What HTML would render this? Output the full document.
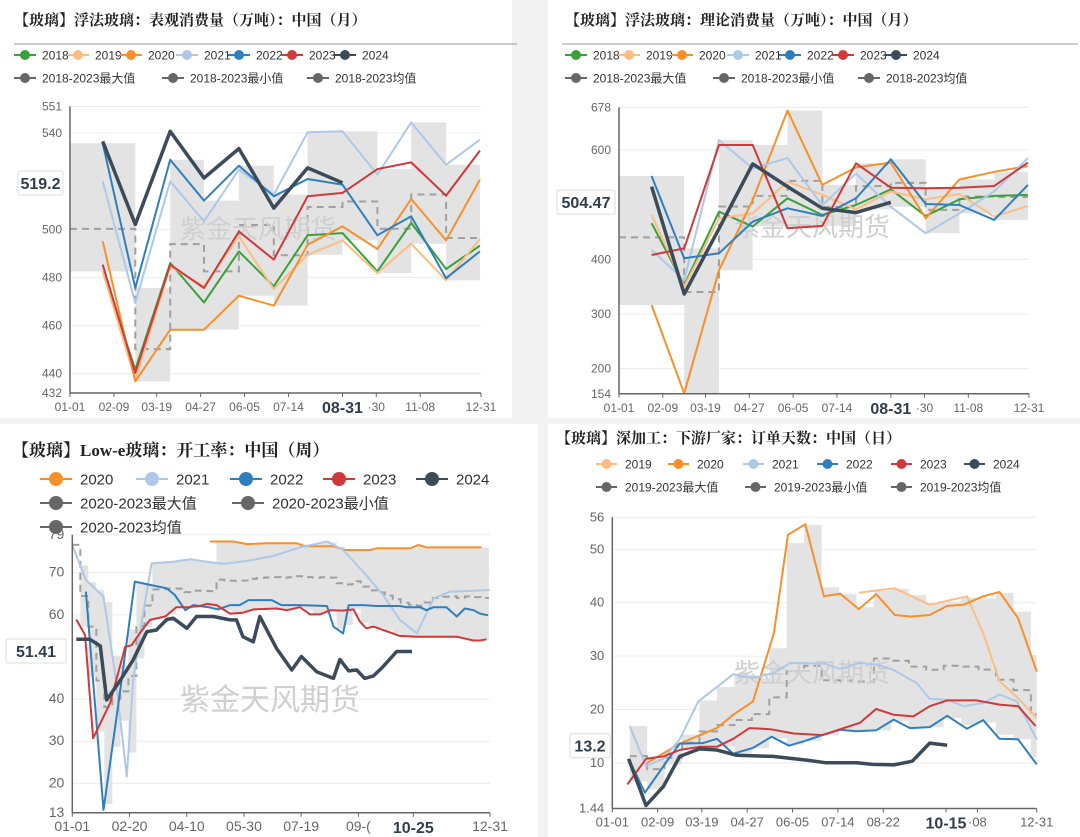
<!DOCTYPE html>
<html><head><meta charset="utf-8">
<style>
html,body{margin:0;padding:0;background:#f2f2f2;}
svg{display:block;font-family:"Liberation Sans","Noto Sans CJK SC",sans-serif;}
.t{font-family:"Liberation Serif","Noto Serif CJK SC",serif;font-weight:bold;fill:#222;}
</style></head>
<body>
<svg id="s" width="1080" height="837" viewBox="0 0 1080 837">
<rect x="0" y="0" width="512" height="418" fill="#fff"/>
<rect x="548" y="0" width="532" height="418" fill="#fff"/>
<rect x="0" y="424" width="538" height="413" fill="#fff"/>
<rect x="548" y="424" width="532" height="413" fill="#fff"/>
<text class="t" x="14" y="25" font-size="15">【玻璃】浮法玻璃：表观消费量（万吨）：中国（月）</text>
<line x1="14" y1="44" x2="517" y2="44" stroke="#999"/>
<text class="t" x="565" y="25" font-size="15">【玻璃】浮法玻璃：理论消费量（万吨）：中国（月）</text>
<line x1="562" y1="44" x2="1078" y2="44" stroke="#999"/>
<text class="t" x="12" y="456" font-size="17">【玻璃】Low-e玻璃：开工率：中国（周）</text>
<text class="t" x="556" y="443" font-size="15">【玻璃】深加工：下游厂家：订单天数：中国（日）</text>
<g id="g"></g>
</svg>
<script>
// ---------- data ----------
var monthDays = [29,58,89,119,150,181,211,242,273,303,334,364];
var c1_2018 = [482.5,441.7,486,469.6,490.8,476.3,497.5,498.4,482.5,502.6,483.5,493.2];
var c1_2019 = [482.5,437.5,484.6,476.3,497.1,475.2,489.4,495.4,481.8,494,478.8,496];
var c1_2020 = [495,436.8,458.3,458.3,472.4,468.3,493.6,501.2,491.8,512.6,495.4,520.6];
var c1_2021 = [519.9,469.4,519.9,503.3,524.8,514.4,540.3,540.7,522.7,544.4,526.8,537.2];
var c1_2022 = [535.8,475.6,528.9,511.9,526.4,513.7,520.9,518.5,497.5,505.4,479.7,490.8];
var c1_2023 = [485.3,440.3,485.3,475.6,499.1,487.4,513.7,515.1,525,527.8,514,532.7];
var c1_2024 = [536.5,502,540.7,521.3,533.5,508.8,525.5,519.3];
var c1YTicks = [432,440,460,480,500,540,551];

var c2_2018 = [466,353,487,460,511.6,481,499.4,528,479,509.8,516,517.7];
var c2_2019 = [481,350,475,484,542,518,491.5,524,510,519.5,478,497.6];
var c2_2020 = [316.5,154.9,380,508.5,672,536,568,576.8,475,546,560,570.7];
var c2_2021 = [417,362,618,566,585,499,557,496,447.6,484,524,585];
var c2_2022 = [552.4,401.8,411,468.9,493.3,479.3,511.6,582.9,501.2,499.4,472,536];
var c2_2023 = [407.9,420,609,609,456.7,461,575.6,531,530,531,534,576.8];
var c2_2024 = [533,336.6,456,574.4,533,493.3,485.4,504.3];
var c2YTicks = [154,200,300,400,600,678];

var c3w_2020 = [17.2,20.1,21.8,24.3,28,29,30.9,32.6,34,37.2,38,42.2,43.2,44.2,51.1];
var c3v_2020 = [77.4,77.4,76.8,77,77,76.3,76.3,76.3,75.4,75.4,75.8,75.8,76.6,76,76];
var c3w_2021 = [0,1.7,3.9,5.3,6.8,7.6,8.7,9.9,12.6,14.7,16.8,18.9,21.8,25.1,28.4,31.8,33.8,36.7,38.8,40.9,43,45.1,47.1,52.1];
var c3v_2021 = [76.6,68.3,64.3,46.5,21.6,44.5,58.8,72.2,72.6,73.2,72.6,72.1,72.8,74,76,77.4,75.4,69.4,64.7,58.8,55.6,63.9,65.5,65.9];
var c3w_2022 = [1.7,3.9,5.7,7.8,9.7,11.8,12.8,14.1,15.1,17,18.2,19.7,20.9,22,24.9,26.1,28.4,31.8,32.6,33.8,34.5,36.3,38,40.9,41.7,43.4,44.2,45.1,46.7,48,49,50.1,50.9,51.9];
var c3v_2022 = [65.5,13.7,38.2,67.9,67.1,66.3,64.7,61.1,62.3,61.8,61.3,62.3,62.3,63.5,63.5,62.3,62.3,62.1,57.2,55.6,62.3,62.3,62.1,62.1,61.8,61.8,61.1,61.8,61.8,59.6,61.5,61.1,60.3,59.9];
var c3w_2023 = [0.5,1.6,2.6,4.7,6.6,7.4,8.4,9.7,11.6,13,14.3,15.9,16.8,18,19.7,21.3,22.6,25.5,26.8,28.4,29.7,30.9,32.2,33.8,35.1,35.9,36.7,37.6,38.8,40.9,43,48,50.1,50.9,51.7];
var c3v_2023 = [58.9,55.2,30.7,39,52.4,52.8,55.6,58.8,59.6,61.8,61.8,62.1,62.6,62.3,60.3,60.5,61.3,61.5,61.1,61.8,60.1,60.1,61.1,61,61.3,58.4,56.8,57.2,56.4,55,54.8,54.8,53.9,53.9,54.2];
var c3w_2024 = [0.5,2.2,3.5,4.3,6,7.6,9.3,10.5,11.8,12.6,14.3,15.5,17.6,19.7,20.5,21.3,22.6,23.4,25.5,27.4,28.6,30.5,32.6,33.4,34.5,35.5,36.5,37.6,38.8,40.5,42.4];
var c3v_2024 = [54.2,54.2,52.6,39.8,44.5,49.3,56,56.4,58.9,59.2,56.8,59.6,59.6,58.8,58.8,54.8,53.6,59.6,52,46.9,50.1,46.5,44.9,49.4,46.7,46.9,44.9,45.5,47.7,51.3,51.3];
var c3YTicks = [13,20,30,40,60,70,79];

var c4d_2019 = [212,243,273,305,319,333,349,365];
var c4v_2019 = [41.9,42.7,39.6,41.2,34.3,25.3,22.1,18.4];
var c4d_2020 = [30,58,90,104,121,139,151,166,182,196,212,227,243,257,273,288,302,319,333,349,365];
var c4v_2020 = [10,13.6,16.5,19,21.5,34.3,52.7,54.7,41.2,41.7,38.8,41.6,37.7,37.4,37.7,39.4,39.6,41.2,42,37.1,27.1];
var c4d_2021 = [15,29,44,58,74,87,104,121,139,153,167,182,196,213,227,242,262,273,288,302,319,333,348,365];
var c4v_2021 = [16.9,9.4,10.75,14.4,21.5,23.7,26.6,25.9,26.8,28.7,28.6,28.6,27.6,28.7,28.4,27.4,24.9,22,21.8,20.6,21.2,22.8,21.5,14.4];
var c4d_2022 = [14,28,47,58,78,90,104,121,137,152,167,182,196,210,227,242,256,273,288,305,319,333,349,365];
var c4v_2022 = [10.75,4.4,10.3,13.6,13.7,14.5,11.7,12.8,14.9,13.2,14.2,15.3,16.2,15.9,16.1,18.1,16.5,16.7,18.8,16.4,18,14.5,14.4,9.7];
var c4d_2023 = [13,29,44,58,75,90,104,118,136,156,181,196,213,227,242,259,273,288,313,333,349,364];
var c4v_2023 = [5.95,10.75,11.2,12.4,13,13,14.5,16.5,16.3,15.5,15.2,16.3,17.5,20.1,19,18.7,20.6,21.7,21.7,20.9,20.6,16.9];
var c4d_2024 = [14,29,44,58,75,90,107,138,167,184,210,224,242,258,273,288];
var c4v_2024 = [10.75,2,5.6,11.2,12.6,12.4,11.4,11.2,10.5,10,10,9.7,9.6,10.3,13.7,13.3];
var c4YTicks = [1.44,10,20,30,40,50,56];

var colors = {y2018:'#3aa13a',y2019:'#fbbd84',y2020:'#f7902a',y2021:'#aec8e8',y2022:'#2f7fbf',y2023:'#d0393b',y2024:'#3c4b5a'};

// ---------- helpers ----------
var NS='http://www.w3.org/2000/svg';
var G=document.getElementById('g');
function el(tag,attrs,parent){var e=document.createElementNS(NS,tag);for(var k in attrs)e.setAttribute(k,attrs[k]);(parent||G).appendChild(e);return e;}
function interp(xs,vs,x){if(x<xs[0]||x>xs[xs.length-1])return null;for(var i=0;i<xs.length-1;i++){if(x>=xs[i]&&x<=xs[i+1]){var t=(x-xs[i])/((xs[i+1]-xs[i])||1);return vs[i]+t*(vs[i+1]-vs[i]);}}return vs[xs.length-1];}

function chart(C){
  var sx=function(d){return C.x0+(d-C.dmin)/(C.dmax-C.dmin)*(C.x1-C.x0);};
  var sy=function(v){return C.y1-(v-C.vmin)/(C.vmax-C.vmin)*(C.y1-C.y0);};
  var g=el('g',{});
  
  
  C.yticks.forEach(function(v){
    var l=el('line',{x1:C.x0,x2:C.x1,y1:sy(v),y2:sy(v),stroke:'#ececec'},g);
    
    
    var t=el('text',{x:C.x0-8,y:sy(v)+4,'text-anchor':'end','font-size':C.fs,fill:'#666'},g);
    t.textContent=String(v);
    
    
  });
  var b=C.band, bp='';
  for(var i=0;i<b.xs.length;i++){
    if(b.max[i]==null)continue;
    bp+='M'+sx(b.xs[i])+','+sy(b.max[i])+'H'+sx(b.xe[i])+'V'+sy(b.min[i])+'H'+sx(b.xs[i])+'Z';
  }
  var band=el('path',{d:bp,fill:'#e3e3e3'},g);
  
  
  var ap='';
  for(var j=0;j<b.xs.length;j++){
    if(b.avg[j]==null)continue;
    ap+=(ap?'L':'M')+sx(b.xs[j])+','+sy(b.avg[j])+'H'+sx(b.xe[j]);
  }
  var avg=el('path',{d:ap,fill:'none',stroke:'#a0a0a0','stroke-width':2,'stroke-dasharray':'7,5'},g);
  
  
  var wm=el('text',{x:C.wmx,y:C.wmy,'font-size':C.wmfs,fill:'#cfcfcf','text-anchor':'middle'},g);
  wm.textContent='紫金天风期货';
  
  
  C.series.forEach(function(s){
    var p='';
    for(var k=0;k<s.v.length;k++)p+=(k?'L':'M')+sx(s.x[k]).toFixed(1)+','+sy(s.v[k]).toFixed(1);
    var ln=el('path',{d:p,fill:'none',stroke:s.c,'stroke-width':s.w||2,'stroke-linejoin':'round'},g);
    
    
  });
  var ax=el('path',{d:'M'+C.x0+','+C.y0+'V'+C.y1+'H'+C.x1,fill:'none',stroke:'#666','stroke-width':1.5},g);
  
  
  C.xticks.forEach(function(t){
    var x=sx(t[0]);
    var tk=el('line',{x1:x,x2:x,y1:C.y1,y2:C.y1+4,stroke:'#666'},g);
    
    
    var tx=el('text',{x:x,y:C.y1+(t[2]?20:18),'text-anchor':'middle','font-size':t[2]?16:C.fs,'font-weight':t[2]?'bold':'normal',fill:t[2]?'#2f3e4c':'#666'},g);
    tx.textContent=t[1];
    
    
  });
  var bx=C.box;
  var r=el('rect',{x:bx[0],y:sy(bx[2])-12,width:bx[1],height:24,fill:'#fff',stroke:'#ddd',rx:2},g);
  
  
  var rt=el('text',{x:bx[0]+bx[1]/2,y:sy(bx[2])+6,'text-anchor':'middle','font-size':16,'font-weight':'bold',fill:'#2f3e4c'},g);
  rt.textContent=String(bx[2]);
  
  
}

function monthlyBand(list){
  var xs=[],xe=[],mx=[],mn=[],av=[];
  for(var i=0;i<11;i++){
    var vals=list.map(function(a){return a[i];});
    xs.push(i==0?0:monthDays[i]);xe.push(monthDays[i+1]);
    mx.push(Math.max.apply(null,vals));mn.push(Math.min.apply(null,vals));
    av.push(vals.reduce(function(a,b){return a+b;},0)/vals.length);
  }
  return {xs:xs,xe:xe,max:mx,min:mn,avg:av};
}
function gridBand(list,start,end,step,scale){
  var xs=[],xe=[],mx=[],mn=[],av=[];
  for(var x=start;x<end;x+=step){
    var vals=[];
    list.forEach(function(s){var v=interp(s[0],s[1],x);if(v!=null)vals.push(v);});
    xs.push(x*scale);xe.push(Math.min(x+step,end)*scale);
    if(vals.length){mx.push(Math.max.apply(null,vals));mn.push(Math.min.apply(null,vals));av.push(vals.reduce(function(a,b){return a+b;},0)/vals.length);}
    else{mx.push(null);mn.push(null);av.push(null);}
  }
  return {xs:xs,xe:xe,max:mx,min:mn,avg:av};
}
function md(n){return monthDays.slice(0,n);}
function wk(a){return a.map(function(w){return w*7;});}

var monthTicks1=[[0,'01-01'],[39,'02-09'],[77,'03-19'],[116,'04-27'],[155,'06-05'],[194,'07-14'],[242,'08-31',true],[272,'·30'],[311,'11-08'],[365,'12-31']];

chart({name:'chart-apparent-consumption',x0:70,x1:481,y0:106.5,y1:393,dmin:0,dmax:365,vmin:432,vmax:551,fs:12,
  yticks:c1YTicks,xticks:monthTicks1,wmx:258,wmy:238,wmfs:26,box:[18,45,519.2],
  band:monthlyBand([c1_2018,c1_2019,c1_2020,c1_2021,c1_2022,c1_2023]),
  series:[{n:'2018',x:md(12),v:c1_2018,c:colors.y2018},{n:'2019',x:md(12),v:c1_2019,c:colors.y2019},{n:'2020',x:md(12),v:c1_2020,c:colors.y2020},{n:'2021',x:md(12),v:c1_2021,c:colors.y2021},{n:'2022',x:md(12),v:c1_2022,c:colors.y2022},{n:'2023',x:md(12),v:c1_2023,c:colors.y2023},{n:'2024',x:md(8),v:c1_2024,c:colors.y2024,w:3.5}]});

chart({name:'chart-theoretical-consumption',x0:619,x1:1029,y0:107.3,y1:393.8,dmin:0,dmax:365,vmin:154,vmax:678,fs:12,
  yticks:c2YTicks,xticks:monthTicks1,wmx:812,wmy:236,wmfs:26,box:[557,58,504.47],
  band:monthlyBand([c2_2018,c2_2019,c2_2020,c2_2021,c2_2022,c2_2023]),
  series:[{n:'2018',x:md(12),v:c2_2018,c:colors.y2018},{n:'2019',x:md(12),v:c2_2019,c:colors.y2019},{n:'2020',x:md(12),v:c2_2020,c:colors.y2020},{n:'2021',x:md(12),v:c2_2021,c:colors.y2021},{n:'2022',x:md(12),v:c2_2022,c:colors.y2022},{n:'2023',x:md(12),v:c2_2023,c:colors.y2023},{n:'2024',x:md(8),v:c2_2024,c:colors.y2024,w:3.5}]});

chart({name:'chart-lowe-utilization',x0:72.3,x1:490,y0:534.8,y1:812.8,dmin:0,dmax:365,vmin:13,vmax:79,fs:14,
  yticks:c3YTicks,xticks:[[0,'01-01'],[50,'02-20'],[100,'04-10'],[150,'05-30'],[200,'07-19'],[250,'09-('],[298,'10-25',true],[365,'12-31']],
  wmx:270,wmy:710,wmfs:30,box:[6,60,51.41],
  band:gridBand([[c3w_2020,c3v_2020],[c3w_2021,c3v_2021],[c3w_2022,c3v_2022],[c3w_2023,c3v_2023]],0,52,1,7),
  series:[{n:'2020',x:wk(c3w_2020),v:c3v_2020,c:colors.y2020},{n:'2021',x:wk(c3w_2021),v:c3v_2021,c:colors.y2021},{n:'2022',x:wk(c3w_2022),v:c3v_2022,c:colors.y2022},{n:'2023',x:wk(c3w_2023),v:c3v_2023,c:colors.y2023},{n:'2024',x:wk(c3w_2024),v:c3v_2024,c:colors.y2024,w:3.5}]});

chart({name:'chart-order-days',x0:612.3,x1:1036.7,y0:517.3,y1:808.5,dmin:0,dmax:365,vmin:1.44,vmax:56,fs:13,
  yticks:c4YTicks,xticks:[[0,'01-01'],[39,'02-09'],[77,'03-19'],[116,'04-27'],[155,'06-05'],[194,'07-14'],[233,'08-22'],[287,'10-15',true],[314,'·08'],[365,'12-31']],
  wmx:812,wmy:682,wmfs:26,box:[570,40,13.2],
  band:gridBand([[c4d_2019,c4v_2019],[c4d_2020,c4v_2020],[c4d_2021,c4v_2021],[c4d_2022,c4v_2022],[c4d_2023,c4v_2023]],0,365,15,1),
  series:[{n:'2019',x:c4d_2019,v:c4v_2019,c:colors.y2019},{n:'2020',x:c4d_2020,v:c4v_2020,c:colors.y2020},{n:'2021',x:c4d_2021,v:c4v_2021,c:colors.y2021},{n:'2022',x:c4d_2022,v:c4v_2022,c:colors.y2022},{n:'2023',x:c4d_2023,v:c4v_2023,c:colors.y2023},{n:'2024',x:c4d_2024,v:c4v_2024,c:colors.y2024,w:3.5}]});

// ---------- legends ----------
function legend(items,lx,lw,r,fs){
  items.forEach(function(it){
    var g=el('g',{});
    
    
    el('line',{x1:it[1],x2:it[1]+lw,y1:it[2],y2:it[2],stroke:it[3],'stroke-width':2},g);
    el('circle',{cx:it[1]+lw/2,cy:it[2],r:r,fill:it[3]},g);
    var t=el('text',{x:it[1]+lw+lx,y:it[2]+fs*0.36,'font-size':fs,fill:'#333'},g);
    t.textContent=it[0];
  });
}
var leg1=[['2018',14,55,colors.y2018],['2019',67,55,colors.y2019],['2020',120,55,colors.y2020],['2021',176,55,colors.y2021],['2022',228,55,colors.y2022],['2023',281,55,colors.y2023],['2024',334,55,colors.y2024],['2018-2023最大值',14,78,'#666'],['2018-2023最小值',162,78,'#666'],['2018-2023均值',307,78,'#666']];
legend(leg1,6,22,5,12);
legend(leg1.map(function(a){return [a[0],a[1]+551,a[2],a[3]];}),6,22,5,12);
legend([['2020',40,479,colors.y2020],['2021',136,479,colors.y2021],['2022',230,479,colors.y2022],['2023',323,479,colors.y2023],['2024',416,479,colors.y2024],['2020-2023最大值',40,503,'#666'],['2020-2023最小值',232,503,'#666'],['2020-2023均值',40,527,'#666']],8,32,7,15);
legend([['2019',596,464,colors.y2019],['2020',668,464,colors.y2020],['2021',743,464,colors.y2021],['2022',817,464,colors.y2022],['2023',891,464,colors.y2023],['2024',964,464,colors.y2024],['2019-2023最大值',596,487,'#666'],['2019-2023最小值',745,487,'#666'],['2019-2023均值',891,487,'#666']],8,21,5,12);
</script>
</body></html>
